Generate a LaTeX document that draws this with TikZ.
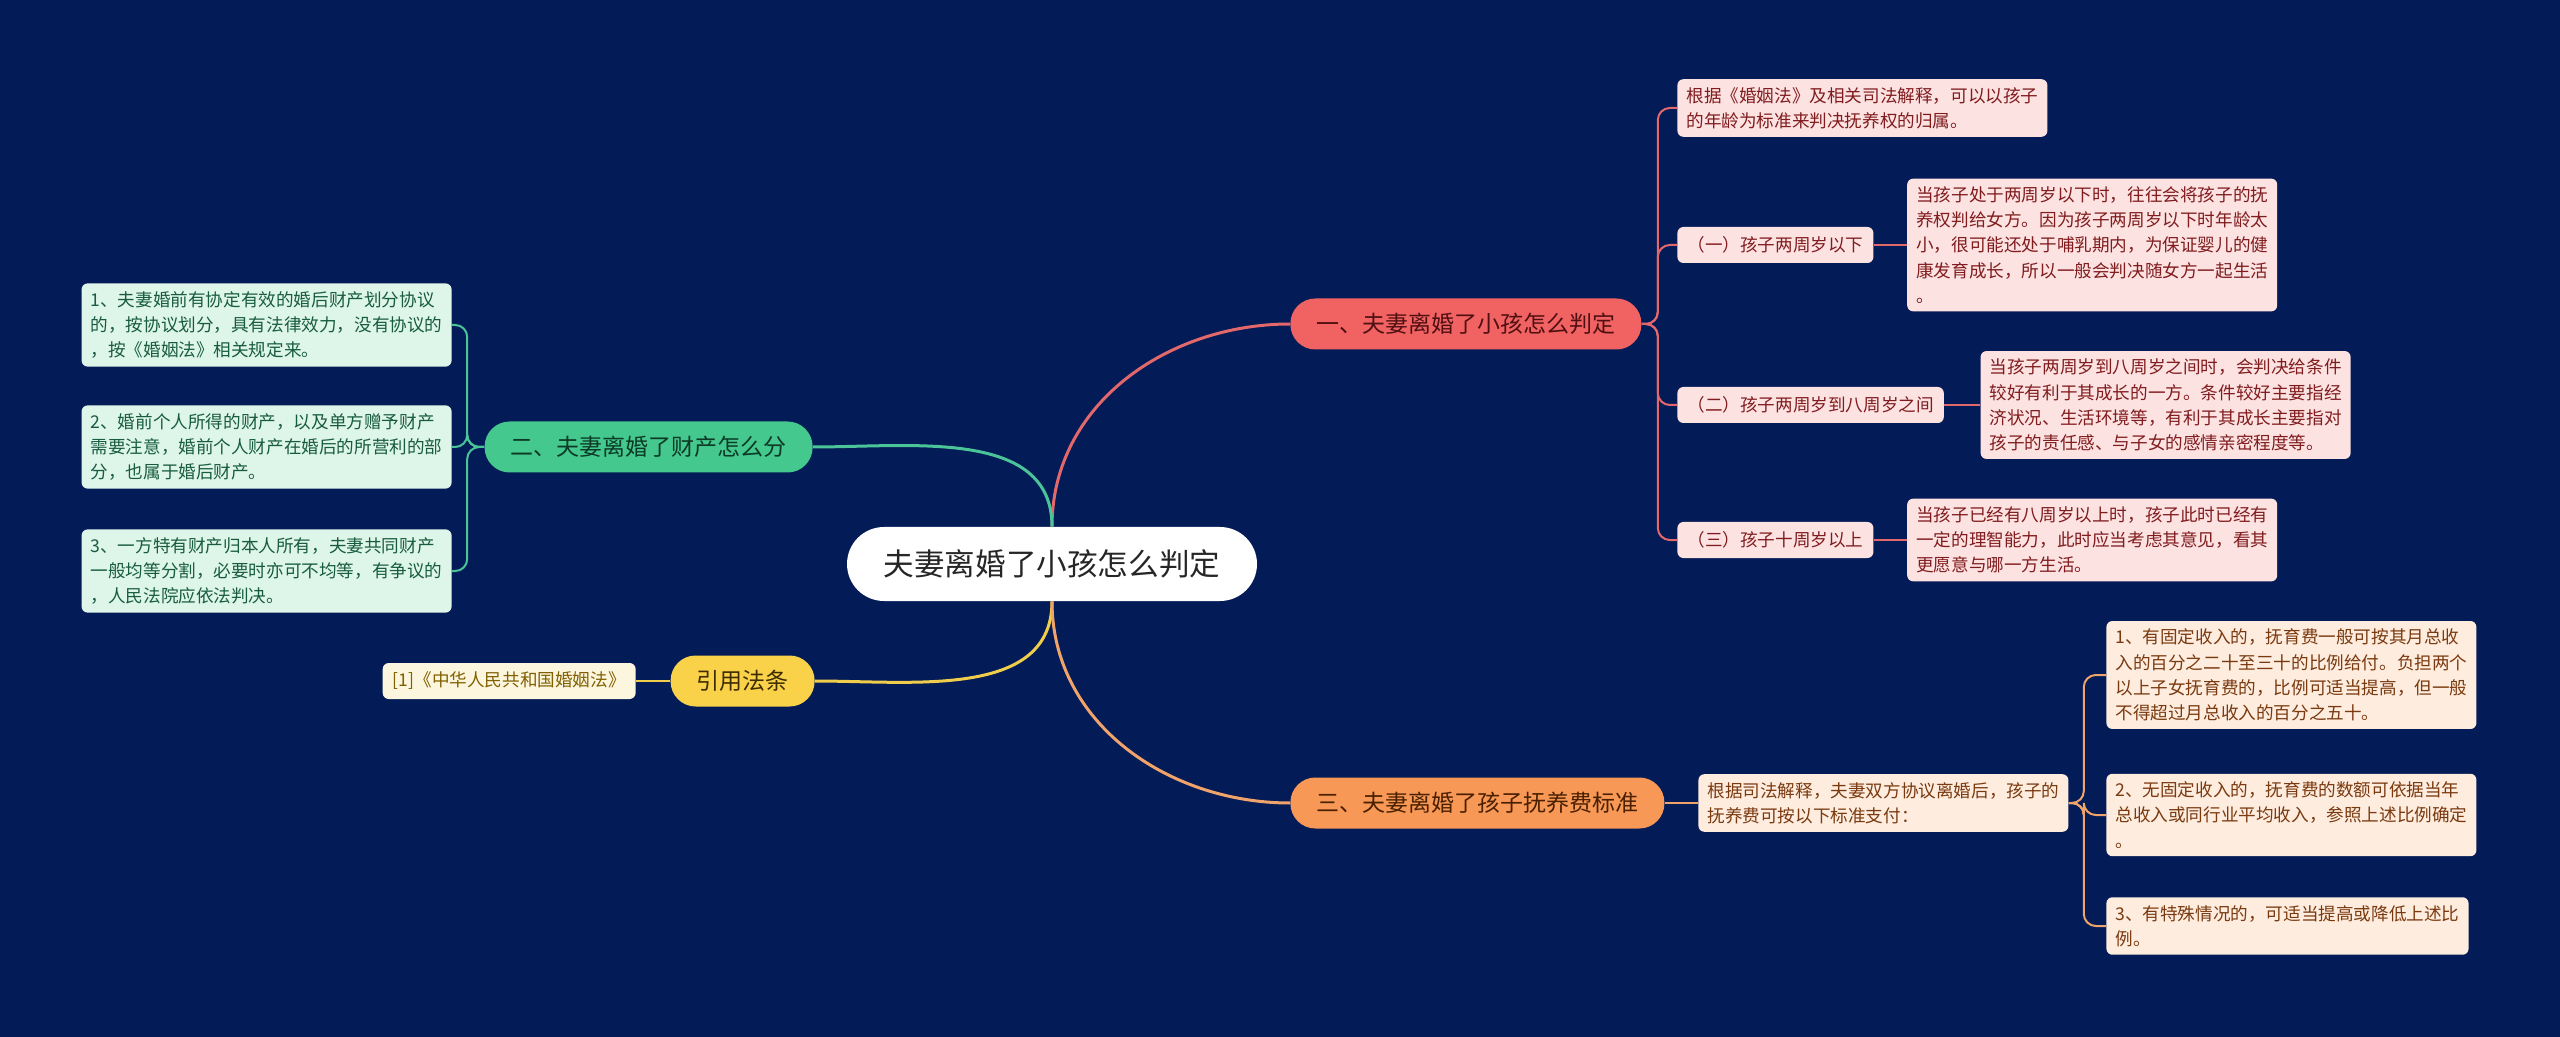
\documentclass[tikz,border=0pt]{standalone}
\usepackage{fontspec}
\setmainfont{Noto Sans CJK SC}
\usepackage{xcolor}
\usetikzlibrary{positioning}

\definecolor{bgnavy}{RGB}{3,27,86}
\definecolor{redfill}{RGB}{241,98,98}
\definecolor{redtext}{RGB}{80,16,18}
\definecolor{redleaf}{RGB}{253,226,226}
\definecolor{redleaftext}{RGB}{128,28,30}
\definecolor{redline}{RGB}{226,104,108}
\definecolor{greenfill}{RGB}{68,200,142}
\definecolor{greentext}{RGB}{12,58,38}
\definecolor{greenleaf}{RGB}{222,245,234}
\definecolor{greenleaftext}{RGB}{24,92,62}
\definecolor{greenline}{RGB}{74,196,152}
\definecolor{yellowfill}{RGB}{250,210,74}
\definecolor{yellowtext}{RGB}{60,44,0}
\definecolor{yellowleaf}{RGB}{253,246,222}
\definecolor{yellowleaftext}{RGB}{128,96,0}
\definecolor{yellowline}{RGB}{240,206,76}
\definecolor{orangefill}{RGB}{247,152,86}
\definecolor{orangetext}{RGB}{74,32,0}
\definecolor{orangeleaf}{RGB}{254,236,222}
\definecolor{orangeleaftext}{RGB}{122,58,16}
\definecolor{orangeline}{RGB}{240,164,108}

\begin{document}
\begin{tikzpicture}[x=0.5pt, y=-0.5pt,
    rootnode/.style={fill=white, text=black!85, rounded corners=18.5pt, minimum width=205pt, minimum height=37pt, font=\fontsize{15.3pt}{18pt}\selectfont},
    branch/.style={rounded corners=12.5pt, minimum height=25.5pt, inner xsep=13pt, font=\fontsize{11.5pt}{14pt}\selectfont},
    leaf/.style={rounded corners=3pt, align=left, inner xsep=4.5pt, inner ysep=4pt, font=\fontsize{8.8pt}{12.6pt}\selectfont},
    tag/.style={rounded corners=3pt, minimum height=18pt, inner xsep=5pt, font=\fontsize{8.8pt}{12.6pt}\selectfont},
    link/.style={line width=1.5pt},
    twig/.style={line width=1pt, rounded corners=6pt}]
    % Background
    \fill[bgnavy] (0,0) rectangle (2560,1037);
    \useasboundingbox (0,0) rectangle (2560,1037);

    % Root
    \node[rootnode] (root) at (1052,564) {夫妻离婚了小孩怎么判定};

    % Main branches
    \node[branch, fill=redfill, text=redtext, anchor=west] (b1) at (1290,324) {一、夫妻离婚了小孩怎么判定};
    \node[branch, fill=greenfill, text=greentext, anchor=east] (b2) at (813,447) {二、夫妻离婚了财产怎么分};
    \node[branch, fill=yellowfill, text=yellowtext, anchor=east] (b4) at (815,681) {引用法条};
    \node[branch, fill=orangefill, text=orangetext, anchor=west] (b3) at (1290,803) {三、夫妻离婚了孩子抚养费标准};

    \draw[link, redline] (root.north) to[out=90, in=180] (b1.west);
    \draw[link, greenline] (root.north) to[out=90, in=0] (b2.east);
    \draw[link, yellowline] (root.south) to[out=-90, in=0] (b4.east);
    \draw[link, orangeline] (root.south) to[out=-90, in=180] (b3.west);

    % Branch one: custody by age
    \node[leaf, fill=redleaf, text=redleaftext, anchor=west] (r0) at (1677,108) {根据《婚姻法》及相关司法解释，可以以孩子\\的年龄为标准来判决抚养权的归属。};
    \node[tag, fill=redleaf, text=redleaftext, anchor=west] (r1) at (1677,245) {（一）孩子两周岁以下};
    \node[tag, fill=redleaf, text=redleaftext, anchor=west] (r2) at (1677,405) {（二）孩子两周岁到八周岁之间};
    \node[tag, fill=redleaf, text=redleaftext, anchor=west] (r3) at (1677,540) {（三）孩子十周岁以上};
    \node[leaf, fill=redleaf, text=redleaftext, right=16.5pt of r1] (r1c) {当孩子处于两周岁以下时，往往会将孩子的抚\\养权判给女方。因为孩子两周岁以下时年龄太\\小，很可能还处于哺乳期内，为保证婴儿的健\\康发育成长，所以一般会判决随女方一起生活\\。};
    \node[leaf, fill=redleaf, text=redleaftext, right=18pt of r2] (r2c) {当孩子两周岁到八周岁之间时，会判决给条件\\较好有利于其成长的一方。条件较好主要指经\\济状况、生活环境等，有利于其成长主要指对\\孩子的责任感、与子女的感情亲密程度等。};
    \node[leaf, fill=redleaf, text=redleaftext, right=16.5pt of r3] (r3c) {当孩子已经有八周岁以上时，孩子此时已经有\\一定的理智能力，此时应当考虑其意见，看其\\更愿意与哪一方生活。};

    \foreach \leafname in {r0,r1,r2,r3}
        \draw[twig, redline] (b1.east) -- ++(16,0) |- (\leafname.west);
    \draw[twig, redline] (r1.east) -- (r1c.west);
    \draw[twig, redline] (r2.east) -- (r2c.west);
    \draw[twig, redline] (r3.east) -- (r3c.west);

    % Branch two: property
    \node[leaf, fill=greenleaf, text=greenleaftext, anchor=east] (g1) at (452,325) {1、夫妻婚前有协定有效的婚后财产划分协议\\的，按协议划分，具有法律效力，没有协议的\\，按《婚姻法》相关规定来。};
    \node[leaf, fill=greenleaf, text=greenleaftext, anchor=east] (g2) at (452,447) {2、婚前个人所得的财产，以及单方赠予财产\\需要注意，婚前个人财产在婚后的所营利的部\\分，也属于婚后财产。};
    \node[leaf, fill=greenleaf, text=greenleaftext, anchor=east] (g3) at (452,571) {3、一方特有财产归本人所有，夫妻共同财产\\一般均等分割，必要时亦可不均等，有争议的\\，人民法院应依法判决。};

    \foreach \leafname in {g1,g2,g3}
        \draw[twig, greenline] (b2.west) -- ++(-17,0) |- (\leafname.east);

    % Cited law
    \node[tag, fill=yellowleaf, text=yellowleaftext, anchor=east] (y1) at (636,681) {[1]《中华人民共和国婚姻法》};
    \draw[twig, yellowline] (b4.west) -- (y1.east);

    % Branch three: child support
    \node[leaf, fill=orangeleaf, text=orangeleaftext, anchor=west] (o0) at (1698,803) {根据司法解释，夫妻双方协议离婚后，孩子的\\抚养费可按以下标准支付：};
    \node[leaf, fill=orangeleaf, text=orangeleaftext, anchor=west] (o1) at (2106,675) {1、有固定收入的，抚育费一般可按其月总收\\入的百分之二十至三十的比例给付。负担两个\\以上子女抚育费的，比例可适当提高，但一般\\不得超过月总收入的百分之五十。};
    \node[leaf, fill=orangeleaf, text=orangeleaftext, anchor=west] (o2) at (2106,815) {2、无固定收入的，抚育费的数额可依据当年\\总收入或同行业平均收入，参照上述比例确定\\。};
    \node[leaf, fill=orangeleaf, text=orangeleaftext, anchor=west] (o3) at (2106,926) {3、有特殊情况的，可适当提高或降低上述比\\例。};

    \draw[twig, orangeline] (b3.east) -- (o0.west);
    \foreach \leafname in {o1,o2,o3}
        \draw[twig, orangeline] (o0.east) -- ++(15,0) |- (\leafname.west);
\end{tikzpicture}
\end{document}
